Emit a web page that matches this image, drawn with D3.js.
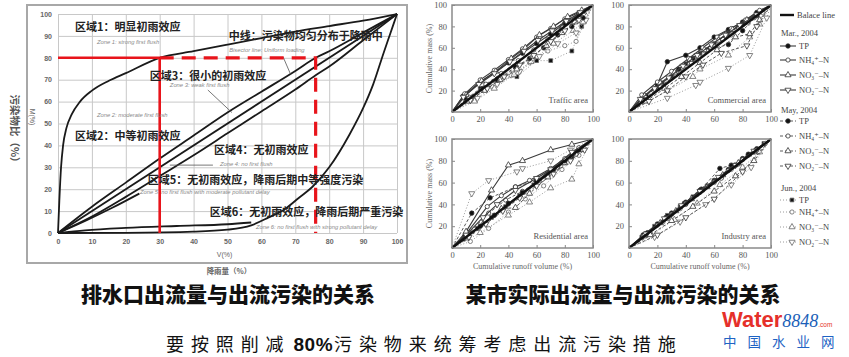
<!DOCTYPE html>
<html><head><meta charset="utf-8">
<script src="https://cdn.jsdelivr.net/npm/d3@7"></script>
<style>body{margin:0;background:#fff}svg{display:block}</style>
</head><body>
<svg id="c" width="849" height="357"></svg>
<script>
// ---------------- DATA ----------------
// Left chart (M(V) curves), [V%, M%]
const gridTicks = [0,10,20,30,40,50,60,70,80,90,100];
const curveStrong = [[0,0],[0.4,15],[0.9,30],[1.5,40],[2.5,48],[4,54],[6.5,60],[10,65],[15,69.5],[20,73],[30,80],[40,83],[50,86],[60,89],[70,92],[80,94.5],[90,97],[100,100]];
const curveModerate = [[0,0],[10,12],[20,23],[30,34],[40,44.5],[50,55],[60,64.5],[70,74],[76,80],[80,83],[90,91.5],[100,100]];
const bisector = [[0,0],[100,100]];
const curveNoFlush = [[0,0],[10,7.5],[20,16.5],[30,26],[40,35.5],[50,45.5],[60,55.5],[70,65.5],[76,72],[80,76],[90,88],[100,100]];
const curveZone5 = [[0,0],[8,5.5],[16,11.5],[24,18]];
const curveZone6a = [[0,0],[8,1.2],[20,2.3],[35,3.2],[50,4],[57,4.8]];
const curveDelay = [[0,0],[20,0.1],[40,0.6],[50,1.5],[57,3.5],[62,7],[67,11],[71,16],[75,21],[80,30],[86,45],[90,57],[93,68],[96,82],[98,91],[100,100]];
const redSolidH = [[0,80],[30,80]];
const redSolidV = [[30,80],[30,0]];
const redDash = [[30,80],[76,80],[76,0]];

// Right charts: tick labels
const rxTicks = [0,20,40,60,80,100];
const ryTicks = [20,40,60,80,100];
const months = ["Mar., 2004","May, 2004","Jun., 2004"];
const pollutants = ["TP","NH₄⁺–N","NO₃⁻–N","NO₂⁻–N"];
// series order: Mar TP, NH4, NO3, NO2, May TP, NH4, NO3, NO2, Jun TP, NH4, NO3, NO2
const trafficSeries = [
 [[0,0],[8,15],[20,28],[30,37],[40,46],[50,55],[60,64],[70,73],[80,83],[90,91],[100,100]],
 [[0,0],[9,17],[20,30],[30,39],[40,49],[50,59],[60,70],[70,78],[80,87],[90,93],[100,100]],
 [[0,0],[10,16],[21,29],[31,38],[42,50],[52,60],[62,72],[72,80],[82,89],[92,95],[100,100]],
 [[0,0],[8,14],[19,26],[30,36],[41,47],[51,57],[61,67],[71,76],[81,85],[91,93],[100,100]],
 [[0,0],[10,12],[22,22],[32,30],[45,42],[55,50],[65,60],[75,72],[85,80],[93,88],[100,100]],
 [[0,0],[12,14],[24,26],[35,36],[47,48],[58,58],[68,68],[78,80],[88,88],[100,100]],
 [[0,0],[11,10],[23,20],[34,30],[46,40],[57,52],[67,62],[78,74],[87,84],[100,100]],
 [[0,0],[13,11],[25,22],[37,33],[48,44],[58,53],[70,66],[80,76],[90,86],[100,100]],
 [[0,0],[20,22],[33,30],[46,33],[60,48],[70,48],[85,57],[92,80],[100,100]],
 [[0,0],[15,13],[28,24],[42,34],[55,46],[68,57],[80,62],[88,66],[100,100]],
 [[0,0],[16,10],[30,22],[44,35],[56,47],[72,64],[86,76],[93,84],[100,100]],
 [[0,0],[18,13],[32,26],[48,38],[62,52],[75,64],[88,74],[95,86],[100,100]]
];
const commercialSeries = [
 [[0,0],[10,14],[20,26],[27,47],[40,53],[50,60],[60,70],[70,77],[80,84],[90,93],[100,100]],
 [[0,0],[9,16],[20,28],[30,38],[42,50],[52,60],[62,70],[72,78],[82,86],[92,95],[100,100]],
 [[0,0],[11,15],[22,27],[32,37],[43,49],[53,58],[63,67],[73,77],[83,86],[100,100]],
 [[0,0],[8,12],[18,22],[28,32],[38,43],[48,53],[58,63],[68,72],[78,81],[90,91],[100,100]],
 [[0,0],[12,15],[23,27],[35,40],[45,50],[55,58],[70,63],[80,76],[90,90],[100,100]],
 [[0,0],[10,11],[22,24],[33,35],[44,46],[55,57],[66,68],[77,79],[88,88],[100,100]],
 [[0,0],[12,10],[25,22],[37,33],[50,46],[62,58],[75,70],[85,73],[92,86],[100,100]],
 [[0,0],[14,10],[27,20],[40,33],[52,44],[65,55],[83,62],[90,80],[100,100]],
 [[0,0],[10,12],[20,22],[30,33],[40,45],[50,55],[60,64],[70,73],[80,82],[90,91],[100,100]],
 [[0,0],[12,12],[24,25],[36,38],[48,48],[60,61],[72,72],[84,83],[94,93],[100,100]],
 [[0,0],[27,20],[45,33],[50,40],[70,53],[85,70],[92,82],[100,100]],
 [[0,0],[27,13],[47,25],[50,28],[70,41],[85,53],[97,88],[100,100]]
];
const residentialSeries = [
 [[0,0],[9,11],[20,20],[30,30],[40,41],[50,51],[60,61],[70,72],[80,80],[90,90],[100,100]],
 [[0,0],[10,13],[25,38],[35,48],[45,56],[55,62],[70,73],[80,82],[90,92],[100,100]],
 [[0,0],[10,15],[28,53],[40,76],[50,80],[70,90],[85,95],[100,100]],
 [[0,0],[10,12],[22,28],[32,40],[45,53],[60,64],[70,72],[85,88],[100,100]],
 [[0,0],[14,32],[27,46],[45,56],[60,62],[72,72],[85,84],[100,100]],
 [[0,0],[12,14],[26,32],[38,44],[50,52],[62,62],[75,74],[88,86],[100,100]],
 [[0,0],[10,9],[22,22],[35,36],[45,37],[55,50],[68,65],[80,78],[92,90],[100,100]],
 [[0,0],[12,10],[24,22],[36,34],[48,46],[60,57],[72,68],[84,80],[94,90],[100,100]],
 [[0,0],[8,8],[18,18],[28,28],[38,38],[48,48],[58,58],[68,68],[78,78],[88,88],[100,100]],
 [[0,0],[13,6],[26,18],[40,33],[52,45],[65,57],[78,72],[90,85],[100,100]],
 [[0,0],[20,14],[40,30],[55,42],[70,55],[85,63],[90,77],[100,100]],
 [[0,0],[14,50],[26,62],[46,70],[50,73],[70,80],[84,90],[100,100]]
];
const industrySeries = [
 [[0,0],[10,12],[20,22],[30,32],[40,42],[50,53],[60,62],[70,72],[80,82],[90,91],[100,100]],
 [[0,0],[10,11],[20,21],[30,31],[40,41],[50,51],[60,61],[70,71],[80,81],[90,90],[100,100]],
 [[0,0],[11,12],[22,23],[33,34],[44,45],[55,56],[66,67],[77,78],[88,88],[100,100]],
 [[0,0],[12,13],[25,27],[37,39],[50,52],[63,65],[75,76],[88,89],[100,100]],
 [[0,0],[13,14],[26,28],[39,41],[51,54],[64,73],[72,76],[84,86],[100,100]],
 [[0,0],[14,13],[27,27],[40,40],[52,53],[65,64],[77,77],[89,89],[100,100]],
 [[0,0],[15,12],[30,25],[45,38],[60,52],[75,66],[88,80],[100,100]],
 [[0,0],[20,12],[40,28],[60,45],[80,70],[100,100]],
 [[0,0],[9,10],[18,20],[27,30],[36,38],[45,47],[55,57],[65,65],[75,76],[85,86],[95,96],[100,100]],
 [[0,0],[12,11],[24,24],[36,36],[48,49],[60,60],[72,72],[84,85],[96,96],[100,100]],
 [[0,0],[16,12],[32,26],[48,41],[64,58],[80,74],[92,88],[100,100]],
 [[0,0],[18,10],[36,24],[54,40],[72,58],[86,74],[100,100]]
];
const balanceLine = [[0,0],[100,100]];

// ---------------- DRAW ----------------
const svg = d3.select("#c");
const CJK = "'Noto Sans CJK SC','Noto Sans',sans-serif";
const SERIF = "'Liberation Serif','DejaVu Serif',serif";
const SANS = "'Liberation Sans','Open Sans',sans-serif";

// ===== Left chart =====
const xL = d3.scaleLinear().domain([0,100]).range([58,397]);
const yL = d3.scaleLinear().domain([0,100]).range([233,14]);
svg.append("rect").attr("x",27).attr("y",5).attr("width",380).attr("height",258)
  .attr("fill","none").attr("stroke","#a8a8a8").attr("stroke-width",2);

const gx = svg.append("g").attr("transform",`translate(0,${yL(0)})`)
  .call(d3.axisBottom(xL).tickValues(gridTicks).tickSize(-(yL(0)-yL(100))).tickPadding(6));
const gy = svg.append("g").attr("transform",`translate(${xL(0)},0)`)
  .call(d3.axisLeft(yL).tickValues(gridTicks).tickSize(-(xL(100)-xL(0))).tickPadding(6));
[gx,gy].forEach(g=>{
  g.select(".domain").remove();
  g.selectAll("line").attr("stroke","#c8c8c8").attr("stroke-width",1);
  g.selectAll("text").attr("font-family",SANS).attr("font-size",7).attr("font-weight","bold").attr("fill","#666");
});

const lineL = d3.line().x(d=>xL(d[0])).y(d=>yL(d[1])).curve(d3.curveMonotoneX);
const lineStraight = d3.line().x(d=>xL(d[0])).y(d=>yL(d[1]));
[curveStrong,curveModerate,curveNoFlush,curveZone5,curveZone6a,curveDelay].forEach(c=>{
  svg.append("path").attr("d",lineL(c)).attr("fill","none").attr("stroke","#1a1a1a").attr("stroke-width",1.8);
});
svg.append("path").attr("d",lineStraight(bisector)).attr("fill","none").attr("stroke","#1a1a1a").attr("stroke-width",1.8);

// pointer lines (in data units)
const pointers = [[[66.4,80.4],[68.6,72.5]],[[44.2,65.3],[51.3,55]],[[33,31],[45.7,31]]];
pointers.forEach(p=>svg.append("path").attr("d",lineStraight(p)).attr("stroke","#555").attr("stroke-width",0.8).attr("fill","none"));

// red lines
svg.append("path").attr("d",lineStraight(redSolidH)).attr("stroke","#e8141b").attr("stroke-width",2.6).attr("fill","none");
svg.append("path").attr("d",lineStraight(redSolidV)).attr("stroke","#e8141b").attr("stroke-width",2.6).attr("fill","none");
svg.append("path").attr("d",lineStraight(redDash)).attr("stroke","#e8141b").attr("stroke-width",3.2).attr("fill","none")
  .attr("stroke-dasharray","14,8");

// zone labels
const cjkLabels = [
  ["区域1：明显初雨效应",5,92.2],
  ["中线：污染物均匀分布于降雨中",50.4,88.1],
  ["区域3：很小的初雨效应",27.1,69.9],
  ["区域2：中等初雨效应",5,42.5],
  ["区域4：无初雨效应",46,36],
  ["区域5：无初雨效应，降雨后期中等强度污染",26.5,22.4],
  ["区域6：无初雨效应，降雨后期严重污染",44.8,7.8]
];
cjkLabels.forEach(l=>svg.append("text").attr("x",xL(l[1])).attr("y",yL(l[2])).text(l[0])
  .attr("font-family",CJK).attr("font-size",11).attr("font-weight","bold").attr("fill","#222"));
const enLabels = [
  ["Zone 1: strong first flush",11.5,86.3],
  ["Bisector line: Uniform loading",50.5,82.6],
  ["Zone 3: weak first flush",33,66.7],
  ["Zone 2: moderate first flush",11.5,53],
  ["Zone 4: no first flush",47.8,30.6],
  ["Zone 5: no first flush with moderate pollutant delay",24.2,17.8],
  ["Zone 6: no first flush with strong pollutant delay",58.4,1.8]
];
enLabels.forEach(l=>svg.append("text").attr("x",xL(l[1])).attr("y",yL(l[2])).text(l[0])
  .attr("font-family",SANS).attr("font-size",5.8).attr("font-style","italic").attr("fill","#8a8a8a"));

svg.append("text").attr("x",xL(50)-3).attr("y",257).text("V(%)").attr("text-anchor","middle")
  .attr("font-family",SANS).attr("font-size",7).attr("fill","#666");
svg.append("text").attr("transform","translate(30,117) rotate(90)").text("M(%)").attr("text-anchor","middle")
  .attr("font-family",SANS).attr("font-size",7).attr("fill","#666");
svg.append("text").attr("transform","translate(11,131) rotate(90)").text("污染物比（%）").attr("text-anchor","middle")
  .attr("font-family",CJK).attr("font-size",10.5).attr("font-weight","bold").attr("fill","#555");
svg.append("text").attr("x",229).attr("y",274).text("降雨量（%）").attr("text-anchor","middle")
  .attr("font-family",CJK).attr("font-size",7.5).attr("font-weight","bold").attr("fill","#666");
svg.append("text").attr("x",228).attr("y",302).text("排水口出流量与出流污染的关系").attr("text-anchor","middle")
  .attr("font-family",CJK).attr("font-size",21).attr("font-weight","900").attr("fill","#111");

// ===== Right charts =====
const panelDefs = [
  {series:trafficSeries, label:"Traffic area", x0:452,x1:593,y0:112,y1:5, yTitle:true, xTitle:false},
  {series:commercialSeries, label:"Commercial area", x0:629,x1:771,y0:112,y1:5, yTitle:false, xTitle:false},
  {series:residentialSeries, label:"Residential area", x0:452,x1:593,y0:248,y1:139, yTitle:true, xTitle:true},
  {series:industrySeries, label:"Industry area", x0:629,x1:771,y0:248,y1:139, yTitle:false, xTitle:true}
];
const monthStyle = [
  {dash:null, stroke:"#3a3a3a", w:1.1},
  {dash:"3,2", stroke:"#5a5a5a", w:1},
  {dash:"1,2", stroke:"#9a9a9a", w:1}
];
function markerPath(mi, pi){
  if(pi===0) return mi===2 ? d3.symbol(d3.symbolSquare,14)() : d3.symbol(d3.symbolCircle,16)();
  if(pi===1) return d3.symbol(d3.symbolCircle,14)();
  return d3.symbol(d3.symbolTriangle,16)();
}
function drawMarker(g, mi, pi, x, y){
  const filled = pi===0;
  g.append("path").attr("d",markerPath(mi,pi))
   .attr("transform",`translate(${x},${y})${pi===3?" rotate(180)":""}`)
   .attr("fill",filled?"#111":"#fff").attr("stroke",mi===2?"#666":"#333").attr("stroke-width",0.8);
}

panelDefs.forEach(p=>{
  const xs = d3.scaleLinear().domain([0,100]).range([p.x0,p.x1]);
  const ys = d3.scaleLinear().domain([0,100]).range([p.y0,p.y1]);
  const g = svg.append("g");
  const ax = g.append("g").attr("transform",`translate(0,${p.y0})`)
    .call(d3.axisBottom(xs).tickValues(rxTicks).tickSize(-3).tickPadding(4));
  const ay = g.append("g").attr("transform",`translate(${p.x0},0)`)
    .call(d3.axisLeft(ys).tickValues(ryTicks).tickSize(-3).tickPadding(5));
  [ax,ay].forEach(a=>{
    a.select(".domain").remove();
    a.selectAll("line").attr("stroke","#888");
    a.selectAll("text").attr("font-family",SERIF).attr("font-size",8.5).attr("fill","#555");
  });
  const ln = d3.line().x(d=>xs(d[0])).y(d=>ys(d[1]));
  [2,1,0].forEach(mi=>{
    for(let pi=0;pi<4;pi++){
      const s = p.series[mi*4+pi];
      const st = monthStyle[mi];
      g.append("path").attr("d",ln(s)).attr("fill","none").attr("stroke",st.stroke)
        .attr("stroke-width",st.w).attr("stroke-dasharray",st.dash);
      s.slice(1,-1).forEach(d=>drawMarker(g,mi,pi,xs(d[0]),ys(d[1])));
    }
  });
  g.append("path").attr("d",ln(balanceLine)).attr("stroke","#111").attr("stroke-width",2.4).attr("fill","none");
  g.append("rect").attr("x",p.x0).attr("y",p.y1).attr("width",p.x1-p.x0).attr("height",p.y0-p.y1)
    .attr("fill","none").attr("stroke","#8a8a8a").attr("stroke-width",1.5);
  g.append("text").attr("x",p.x1-5).attr("y",p.y0-9).text(p.label).attr("text-anchor","end")
    .attr("font-family",SERIF).attr("font-size",8.5).attr("fill","#555");
  if(p.yTitle){
    g.append("text").attr("transform",`translate(${p.x0-20},${(p.y0+p.y1)/2}) rotate(-90)`).text("Cumulative mass (%)")
      .attr("text-anchor","middle").attr("font-family",SERIF).attr("font-size",8).attr("fill","#666");
  }
  if(p.xTitle){
    g.append("text").attr("x",(p.x0+p.x1)/2).attr("y",p.y0+21).text("Cumulative runoff volume (%)")
      .attr("text-anchor","middle").attr("font-family",SERIF).attr("font-size",8).attr("fill","#666");
  }
});

// legend
const lg = svg.append("g").attr("font-family",SERIF).attr("font-size",8.5).attr("fill","#444");
lg.append("line").attr("x1",780).attr("x2",794).attr("y1",15).attr("y2",15).attr("stroke","#111").attr("stroke-width",2.4);
lg.append("text").attr("x",797).attr("y",18).text("Balace line");
const monthY = [33,110,188];
const itemY = [[46,60,75,90],[121,136,151,166],[200,212,227,242]];
months.forEach((m,mi)=>{
  lg.append("text").attr("x",781).attr("y",monthY[mi]+3).text(m);
  pollutants.forEach((pn,pi)=>{
    const y = itemY[mi][pi];
    const st = monthStyle[mi];
    lg.append("line").attr("x1",780).attr("x2",796).attr("y1",y).attr("y2",y)
      .attr("stroke",st.stroke).attr("stroke-width",st.w).attr("stroke-dasharray",st.dash);
    drawMarker(lg,mi,pi,mi===2?792:788,y);
    lg.append("text").attr("x",799).attr("y",y+3).text(pn);
  });
});

svg.append("text").attr("x",623).attr("y",302).text("某市实际出流量与出流污染的关系").attr("text-anchor","middle")
  .attr("font-family",CJK).attr("font-size",21).attr("font-weight","900").attr("fill","#111");

// bottom sentence
const bt = svg.append("text").attr("x",166).attr("y",351).attr("font-family",CJK).attr("font-size",18)
  .attr("fill","#111").attr("letter-spacing",6.9);
bt.append("tspan").text("要按照削减");
bt.append("tspan").text("80%").attr("font-weight","bold").attr("font-family",SANS).attr("font-size",19)
  .attr("letter-spacing",0.5).attr("dx",3);
bt.append("tspan").text("污染物来统筹考虑出流污染措施").attr("dx",1);

// watermark
const wm = svg.append("text").attr("x",722).attr("y",327);
wm.append("tspan").text("Water").attr("font-family",SANS).attr("font-weight","bold").attr("font-size",22).attr("fill","#e5302a");
wm.append("tspan").text("8848").attr("font-family",SERIF).attr("font-style","italic").attr("font-size",18).attr("fill","#1c5fb8");
wm.append("tspan").text(".com").attr("font-family",SANS).attr("font-size",6.5).attr("fill","#e5302a");
svg.append("text").attr("x",723).attr("y",347).text("中国水业网").attr("font-family",CJK).attr("font-size",13.5)
  .attr("fill","#1e63c4").attr("letter-spacing",11);
</script>
</body></html>
